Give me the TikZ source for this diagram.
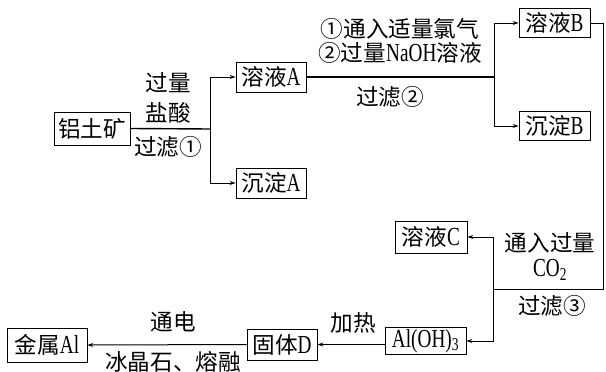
\documentclass[tikz,border=0pt]{standalone}
\usepackage{fontspec}
\setmainfont{Liberation Serif}[FakeStretch=0.74]
\newfontfamily\cjk{Noto Sans CJK SC}[Scale=0.87]
\usetikzlibrary{arrows.meta}
\begin{document}
\begin{tikzpicture}[x=1pt,y=-1pt,
  every node/.style={font=\fontsize{26}{29}\selectfont, inner sep=1pt},
  box/.style={draw, line width=0.8pt, minimum height=30pt, inner sep=1.5pt},
  lbl/.style={inner sep=0pt},
  link/.style={line width=1pt},
  arr/.style={link, -{Stealth[length=6pt,width=4pt]}}]
\useasboundingbox (0,0) rectangle (606,372);
% boxes
\node[box, minimum width=76pt, minimum height=33pt] (ore) at (92,128.5) {\cjk 铝土矿};
\node[box, minimum width=70pt] (A) at (271,77) {{\cjk 溶液}A};
\node[box, minimum width=70pt] (sA) at (271,183) {{\cjk 沉淀}A};
\node[box, minimum width=71pt, minimum height=29pt] (B) at (554.5,23) {{\cjk 溶液}B};
\node[box, minimum width=71pt, minimum height=29pt] (sB) at (554.5,126) {{\cjk 沉淀}B};
\node[box, minimum width=72pt, minimum height=32pt] (C) at (431,237) {{\cjk 溶液}C};
\node[box, minimum width=81pt, minimum height=27pt] (AlOH) at (425.5,341) {Al(OH)\textsubscript{3}};
\node[box, minimum width=70pt, minimum height=31pt] (D) at (282,344.5) {{\cjk 固体}D};
\node[box, minimum width=80pt, minimum height=34pt] (Al) at (47,345) {{\cjk 金属}Al};
% junctions
\coordinate (j1) at (210,129);
\coordinate (j2) at (494,77);
\coordinate (k1) at (603,23);
\coordinate (k2) at (603,289);
\coordinate (j3) at (493,289);
% connectors
\draw[link, line width=1.4pt] (ore.east) -- (j1);
\draw[arr] (j1) |- (A.west);
\draw[arr] (j1) |- (sA.west);
\draw[link, line width=1.4pt] (A.east) -- (j2);
\draw[arr] (j2) |- (B.west);
\draw[arr] (j2) |- (sB.west);
\draw[link] (B.east) -- (k1) -- (k2) -- (j3);
\draw[arr] (j3) |- (C.east);
\draw[arr] (j3) |- (AlOH.east);
\draw[arr] (AlOH.west |- D.east) -- (D.east);
\draw[arr] (D.west) -- (Al.east);
% labels
\node[lbl] (l1) at (168,83) {\cjk 过量};
\node[lbl] (l2) at (168,113) {\cjk 盐酸};
\node[lbl] (l3) at (168,147) {\cjk 过滤①};
\node[lbl] (l4) at (400,29) {\cjk ①通入适量氯气};
\node[lbl] (l5) at (400,53) {{\cjk ②过量}NaOH{\cjk 溶液}};
\node[lbl] (l6) at (390,97) {\cjk 过滤②};
\node[lbl] (l7) at (550,243) {\cjk 通入过量};
\node[lbl] (l8) at (550,270) {CO\textsubscript{2}};
\node[lbl] (l9) at (552,306) {\cjk 过滤③};
\node[lbl] (l10) at (173,322) {\cjk 通电};
\node[lbl] (l11) at (173,362) {\cjk 冰晶石、熔融};
\node[lbl] (l12) at (353,323) {\cjk 加热};
\end{tikzpicture}
\end{document}
